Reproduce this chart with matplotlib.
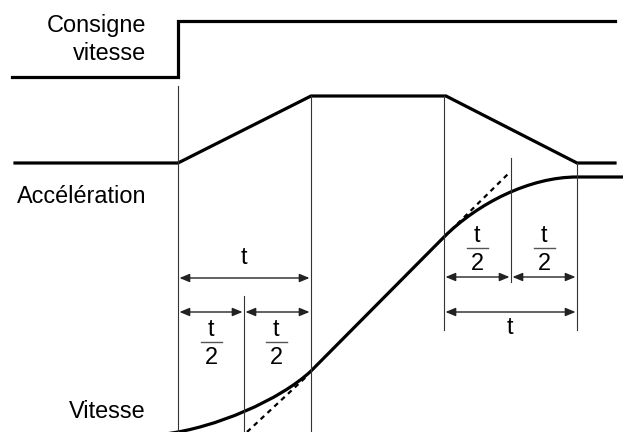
import matplotlib
matplotlib.use("Agg")
import matplotlib.pyplot as plt
from matplotlib.path import Path
from matplotlib.patches import PathPatch, FancyArrowPatch

plt.rcParams['font.family'] = ['Liberation Sans', 'DejaVu Sans']

# ---- diagram data (pixel-space coordinates of the reference) ----
consigne_x = [12, 178, 178, 615]
consigne_y = [77, 77, 21, 21]

accel_x = [15, 178, 311, 446, 577, 615]
accel_y = [163, 163, 96, 96, 163, 163]

# velocity: cubic Bezier lower part, straight middle, cubic Bezier upper part, flat
vit_low = [(165, 434), (215, 428), (280, 400), (311, 371)]
vit_mid_end = (444, 237)
vit_high = [(444, 237), (478, 203), (530, 177), (577, 177)]
vit_flat_end = (623, 177)

# tangent (dashed) lines
tangent_low = [(247, 432), (306, 377)]
tangent_high = [(444, 237), (509, 173)]

# guide vertical lines: x, y_top, y_bottom
guides_x = [178, 311, 444, 511, 577, 244]
guides_top = [86, 96, 96, 158, 163, 296]
guides_bot = [432, 432, 330, 282, 330, 432]

# dimension arrows: x0, x1, y
dims = [(178, 311, 278), (178, 244, 312), (244, 311, 312),
        (444, 511, 277), (511, 577, 277), (444, 577, 312)]

labels = [("Consigne", 146, 32), ("vitesse", 146, 60),
          ("Accélération", 146, 203), ("Vitesse", 146, 418)]

t_labels = [(244, 258), (510, 328)]
frac_labels = [(211, 330), (276, 330), (477, 236), (544, 236)]

W, H = 623, 432
fig = plt.figure(figsize=(W / 100, H / 100), dpi=100)
ax = fig.add_axes([0, 0, 1, 1])
ax.set_xlim(0, W)
ax.set_ylim(H, 0)
ax.axis('off')

thick = 2.3
thin = 0.8
gcol = '#333333'

ax.plot(consigne_x, consigne_y, color='black', lw=thick, solid_joinstyle='miter')
ax.plot(accel_x, accel_y, color='black', lw=thick, solid_joinstyle='miter')

verts = vit_low + [vit_mid_end] + vit_high[1:] + [vit_flat_end]
codes = ([Path.MOVETO, Path.CURVE4, Path.CURVE4, Path.CURVE4, Path.LINETO]
         + [Path.CURVE4, Path.CURVE4, Path.CURVE4, Path.LINETO])
ax.add_patch(PathPatch(Path(verts, codes), facecolor='none', edgecolor='black',
                       lw=thick, clip_on=True))

for seg in (tangent_low, tangent_high):
    ax.plot([p[0] for p in seg], [p[1] for p in seg], color='black', lw=1.6,
            linestyle=(0, (2.2, 2.0)))

for x, y0, y1 in zip(guides_x, guides_top, guides_bot):
    ax.plot([x, x], [y0, y1], color=gcol, lw=thin)

for x0, x1, y in dims:
    a = FancyArrowPatch((x0 + 1.5, y), (x1 - 1.5, y),
                        arrowstyle='<|-|>,head_length=0.6,head_width=0.25',
                        mutation_scale=10, color='#222222', lw=1.0,
                        shrinkA=0, shrinkB=0)
    ax.add_patch(a)

fs = 16.9
for txt, x, y in labels:
    ax.text(x, y, txt, ha='right', va='baseline', fontsize=fs, color='black')

for x, y in t_labels:
    ax.text(x, y, 't', ha='center', va='center', fontsize=fs, color='black')

for x, y in frac_labels:
    ax.text(x, y, 't', ha='center', va='center', fontsize=fs, color='black')
    ax.plot([x - 10.5, x + 10.5], [y + 12, y + 12], color='#555555', lw=1.0)
    ax.text(x, y + 27, '2', ha='center', va='center', fontsize=fs, color='black')

fig.savefig('out.png', dpi=100)
